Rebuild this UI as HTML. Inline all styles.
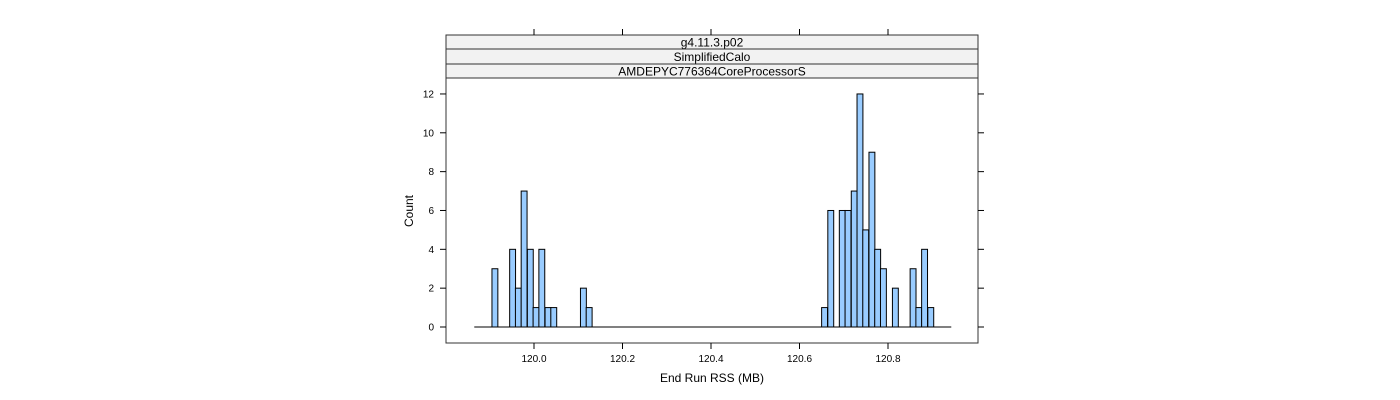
<!DOCTYPE html>
<html><head><meta charset="utf-8"><style>
body{margin:0;background:#fff}
svg{display:block;font-family:"Liberation Sans",sans-serif}
</style></head><body>
<svg id="chart" width="1400" height="400" viewBox="0 0 1400 400">
<rect x="446" y="35" width="532" height="14" fill="#f2f2f2" stroke="#333" stroke-width="1"/>
<text x="712" y="46.5" font-size="12" text-anchor="middle">g4.11.3.p02</text>
<rect x="446" y="49" width="532" height="15" fill="#f2f2f2" stroke="#333" stroke-width="1"/>
<text x="712" y="61" font-size="12" text-anchor="middle">SimplifiedCalo</text>
<rect x="446" y="64" width="532" height="14" fill="#f2f2f2" stroke="#333" stroke-width="1"/>
<text x="712" y="75.5" font-size="12" text-anchor="middle">AMDEPYC776364CoreProcessorS</text>
<rect x="446" y="78" width="532" height="265" fill="none" stroke="#333" stroke-width="1"/>
<g id="bars"></g>
<g id="axes"></g>
<text x="712" y="382" font-size="12" text-anchor="middle">End Run RSS (MB)</text>
<text x="413" y="211" font-size="12" text-anchor="middle" transform="rotate(-90 413 211)">Count</text>
</svg>
<script>
const binEdges=[119.905,119.945,119.958,119.971,119.985,119.998,120.011,120.025,120.038,120.105,120.118,120.650,120.664,120.690,120.703,120.717,120.730,120.743,120.757,120.770,120.783,120.810,120.850,120.863,120.876,120.890];
const counts=[3,4,2,7,4,1,4,1,1,2,1,1,6,6,6,7,12,5,9,4,3,2,3,1,4,1];
const binWidth=0.01331;
const xRange=[119.865,120.943];
const xTicks=[120.0,120.2,120.4,120.6,120.8];
const xTickLabels=["120.0","120.2","120.4","120.6","120.8"];
const yTicks=[0,2,4,6,8,10,12];
const NS="http://www.w3.org/2000/svg";
const X=v=>534+(v-120)*442.5;
const Y=c=>327-c*19.42;
const bars=document.getElementById('bars'),axes=document.getElementById('axes');
function mk(p,tag,at){const e=document.createElementNS(NS,tag);for(const k in at)e.setAttribute(k,at[k]);p.appendChild(e);return e;}
const base=mk(bars,'line',{x1:X(xRange[0]),x2:X(xRange[1]),y1:Y(0),y2:Y(0),stroke:'#000','stroke-width':1});


binEdges.forEach((e,i)=>{
 const r=mk(bars,'rect',{x:X(e),y:Y(counts[i]),width:X(e+binWidth)-X(e),height:Y(0)-Y(counts[i]),fill:'#99ccff',stroke:'#000','stroke-width':1});
 
 
});
xTicks.forEach((t,i)=>{
 const x=X(t);
 const a=mk(axes,'line',{x1:x,x2:x,y1:343,y2:349,stroke:'#000'});
 
 
 const b=mk(axes,'line',{x1:x,x2:x,y1:29,y2:35,stroke:'#000'});
 
 
 const tx=mk(axes,'text',{x:x,y:362,'font-size':10,'text-anchor':'middle'});
 tx.textContent=xTickLabels[i];
 
 
});
yTicks.forEach(t=>{
 const y=Y(t);
 const a=mk(axes,'line',{x1:440,x2:446,y1:y,y2:y,stroke:'#000'});
 
 
 const b=mk(axes,'line',{x1:978,x2:984,y1:y,y2:y,stroke:'#000'});
 
 
 const tx=mk(axes,'text',{x:434,y:y+3.5,'font-size':10,'text-anchor':'end'});
 tx.textContent=String(t);
 
 
});
</script>
</body></html>
